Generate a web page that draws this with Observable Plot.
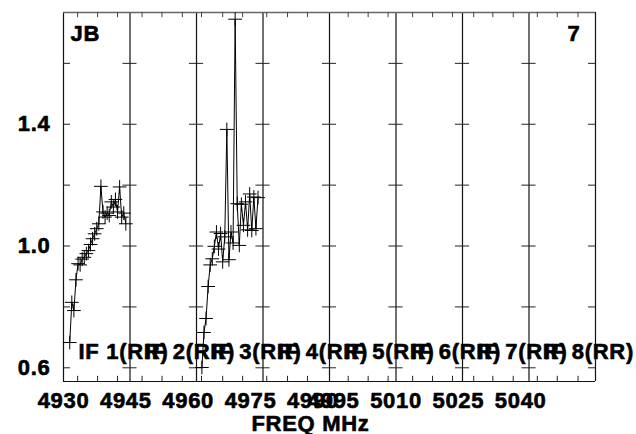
<!DOCTYPE html>
<html>
<head>
<meta charset="utf-8">
<script src="https://cdn.jsdelivr.net/npm/d3@7"></script>
<script src="https://cdn.jsdelivr.net/npm/@observablehq/plot@0.6"></script>
<style>
  html, body { margin: 0; padding: 0; background: #fff; }
  #chart { width: 636px; height: 434px; }
</style>
</head>
<body>
<div id="chart"></div>
<script>
// ---- data ----
const ifNames = ["IF 1(RR)", "IF 2(RR)", "IF 3(RR)", "IF 4(RR)", "IF 5(RR)", "IF 6(RR)", "IF 7(RR)", "IF 8(RR)"];
const ifStartMHz = [4930, 4946, 4962, 4978, 4994, 5010, 5026, 5042];
const chanWidthMHz = 0.5;

// IF 1: first plotted channel freq and amplitudes
const if1FirstMHz = 4931.5;
const if1Amp = [0.683, 0.815, 0.788, 0.889, 0.942, 0.938, 0.957, 0.963, 0.975, 0.985,
                1.005, 1.024, 1.040, 1.057, 1.073, 1.196, 1.112, 1.095, 1.108, 1.100,
                1.145, 1.128, 1.153, 1.112, 1.194, 1.095, 1.108, 1.073];
// IF 3
const if3FirstMHz = 4963.3;
const if3Amp = [0.601, 0.716, 0.762, 0.867, 0.938, 0.958, 0.999, 1.046, 0.990, 1.041,
                0.948, 1.030, 1.383, 0.955, 1.046, 1.010, 1.745, 1.139, 1.002, 1.137,
                1.068, 1.145, 1.053, 1.171, 1.051, 1.161, 1.057, 1.159];

const xTickLabels = [4930, 4945, 4960, 4975, 4990, 4995, 5010, 5025, 5040];
const yGridTicks = [0.6, 0.8, 1.0, 1.2, 1.4, 1.6];
const yTickLabels = [0.6, 1.0, 1.4];
const minorTicksMHz = [4933.4, 4938.2, 4943.0, 4948.9, 4953.7, 4958.6, 4963.2, 4968.3, 4973.1,
                       4978.9, 4983.9, 4988.7, 4998.5, 5003.3, 5008.1, 5014.0, 5018.8, 5023.6,
                       5028.7, 5033.3, 5038.2, 5044.0, 5048.8, 5053.8];
const xDomain = [4930, 5058];
const yDomain = [0.555, 1.767];
const sourceName = "JB";
const plotNumber = "7";
const xTitle = "FREQ MHz";

// ---- build table ----
const points = [];
if1Amp.forEach((v, i) => points.push({IF: 1, f: if1FirstMHz + i * chanWidthMHz, v}));
if3Amp.forEach((v, i) => points.push({IF: 3, f: if3FirstMHz + i * chanWidthMHz, v}));

const boundaries = ifStartMHz.slice(1);
const yHalf = 1.7;  // half-length of y ticks on dividers (MHz)
const yTickSegs = [];
for (const y of yGridTicks) {
  yTickSegs.push({y, x1: xDomain[0], x2: xDomain[0] + yHalf});
  yTickSegs.push({y, x1: xDomain[1] - yHalf, x2: xDomain[1]});
  for (const b of boundaries) yTickSegs.push({y, x1: b - yHalf, x2: b + yHalf});
}
const tickLenY = 0.017;
const txt = {fill: "#000", stroke: "#000", strokeWidth: 0.6};

const chart = Plot.plot({
  width: 636,
  height: 434,
  marginLeft: 63,
  marginRight: 41,
  marginTop: 12,
  marginBottom: 53,
  x: {domain: xDomain, axis: null},
  y: {domain: yDomain, axis: null},
  style: {fontFamily: "'Liberation Sans', Arial, sans-serif", fontSize: "22px", fontWeight: "bold", letterSpacing: "0.7px", background: "#fff", color: "#000"},
  marks: [
    // panel dividers
    Plot.ruleX(boundaries, {stroke: "#111", strokeWidth: 1.2}),
    // frame
    Plot.ruleX([xDomain[0], xDomain[1]], {stroke: "#111", strokeWidth: 1.2}),
    Plot.ruleY([yDomain[0]], {stroke: "#111", strokeWidth: 1.2}),
    Plot.ruleY([yDomain[1]], {stroke: "#666", strokeWidth: 1.5}),
    // y ticks
    Plot.ruleY(yTickSegs, {y: "y", x1: "x1", x2: "x2", stroke: "#222", strokeWidth: 1}),
    // minor x ticks bottom & top
    Plot.ruleX(minorTicksMHz, {y1: yDomain[0], y2: yDomain[0] + tickLenY, stroke: "#222", strokeWidth: 1}),
    Plot.ruleX(minorTicksMHz, {y1: yDomain[1], y2: yDomain[1] - tickLenY, stroke: "#444", strokeWidth: 1}),
    // data
    Plot.line(points, {x: "f", y: "v", z: "IF", stroke: "#000", strokeWidth: 1}),
    Plot.dot(points, {x: "f", y: "v", symbol: "plus", r: 4.5, stroke: "#000", strokeWidth: 1}),
    // IF labels
    Plot.text(ifNames, {x: (d, i) => ifStartMHz[i], text: d => d, frameAnchor: "bottom", textAnchor: "start", lineAnchor: "top", dx: 15, dy: -38, ...txt}),
    // axis labels
    Plot.text(yTickLabels, {y: d => d, text: d => d.toFixed(1), frameAnchor: "left", textAnchor: "end", dx: -13, ...txt}),
    Plot.text(xTickLabels, {x: d => d, text: d => String(d), frameAnchor: "bottom", lineAnchor: "top", dy: 11, ...txt}),
    Plot.text([xTitle], {text: d => d, frameAnchor: "bottom", lineAnchor: "top", dy: 34, dx: -19, ...txt}),
    Plot.text([sourceName], {text: d => d, frameAnchor: "top-left", textAnchor: "start", lineAnchor: "top", dx: 7, dy: 13, ...txt}),
    Plot.text([plotNumber], {text: d => d, frameAnchor: "top-right", textAnchor: "end", lineAnchor: "top", dx: -15, dy: 13, ...txt})
  ]
});
document.getElementById("chart").appendChild(chart);
</script>
</body>
</html>
